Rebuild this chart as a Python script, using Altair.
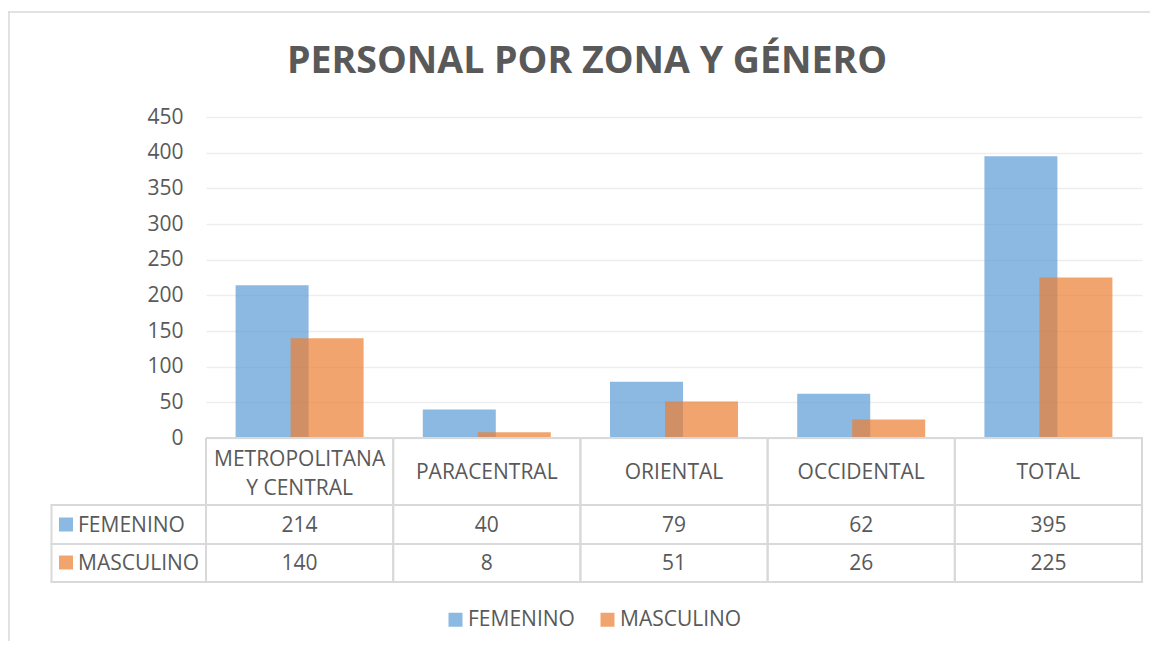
import altair as alt
import pandas as pd

title_text = "PERSONAL POR ZONA Y GÉNERO"
categories = ["METROPOLITANA Y CENTRAL", "PARACENTRAL", "ORIENTAL", "OCCIDENTAL", "TOTAL"]
femenino = [214, 40, 79, 62, 395]
masculino = [140, 8, 51, 26, 225]
series = ["FEMENINO", "MASCULINO"]
colors = ["#5B9BD5", "#ED7D31"]
y_ticks = [0, 50, 100, 150, 200, 250, 300, 350, 400, 450]

TXT = "#595959"
LINE = "#D9D9D9"
FONT = "Open Sans"
FS = 21

df = pd.DataFrame(
    {
        "zona": categories * 2,
        "genero": [series[0]] * len(categories) + [series[1]] * len(categories),
        "valor": femenino + masculino,
    }
)
zones = pd.DataFrame({"zona": categories})
deco = pd.DataFrame({"k": [0]})
title_df = pd.DataFrame({"t": [title_text]})

xscale = alt.Scale(domain=categories, paddingInner=0, paddingOuter=0)
xenc = alt.X("zona:N", sort=categories, scale=xscale, axis=None)
yenc = alt.Y(
    "valor:Q",
    scale=alt.Scale(domain=[0, 450], nice=False),
    axis=alt.Axis(
        values=y_ticks,
        grid=True,
        gridColor="#EDEDED",
        gridWidth=1.5,
        domain=False,
        ticks=False,
        tickSize=0,
        labelPadding=23,
        labelFontSize=FS,
        labelFont=FONT,
        labelColor=TXT,
        title=None,
    ),
)
color_enc = alt.Color(
    "genero:N",
    scale=alt.Scale(domain=series, range=colors),
    legend=alt.Legend(
        orient="none",
        legendX=239,
        legendY=492,
        direction="horizontal",
        title=None,
        symbolType="square",
        symbolSize=196,
        symbolStrokeWidth=0,
        symbolOpacity=0.7,
        labelFontSize=FS,
        labelFont=FONT,
        labelColor=TXT,
        labelOffset=2,
        columnPadding=22,
    ),
)

bars_f = (
    alt.Chart(df)
    .transform_filter(alt.datum.genero == series[0])
    .mark_bar(width=73, xOffset=-27.5, opacity=0.7)
    .encode(x=xenc, y=yenc, color=color_enc)
)
bars_m = (
    alt.Chart(df)
    .transform_filter(alt.datum.genero == series[1])
    .mark_bar(width=73, xOffset=27.5, opacity=0.7)
    .encode(x=xenc, y=yenc, color=color_enc)
)

# data table: header (wrapped and single-line labels)
header_multi = (
    alt.Chart(zones)
    .transform_filter("test(/ Y /, datum.zona)")
    .transform_calculate(label="replace(datum.zona, ' Y ', '|Y ')")
    .mark_text(lineBreak="|", fontSize=FS, font=FONT, color=TXT, lineHeight=29, baseline="middle")
    .encode(x=xenc, y=alt.value(342.5), text="label:N")
)
header_single = (
    alt.Chart(zones)
    .transform_filter("!test(/ Y /, datum.zona)")
    .mark_text(fontSize=FS, font=FONT, color=TXT, baseline="middle")
    .encode(x=xenc, y=alt.value(356), text="zona:N")
)
row_y = [408.5, 446.5]
rows = []
for s, ry, c in zip(series, row_y, colors):
    rows.append(
        alt.Chart(df)
        .transform_filter(alt.datum.genero == s)
        .mark_text(fontSize=FS, font=FONT, color=TXT, baseline="middle")
        .encode(x=xenc, y=alt.value(ry), text="valor:Q")
    )
    rows.append(
        alt.Chart(pd.DataFrame({"genero": [s]}))
        .mark_text(fontSize=FS, font=FONT, color=TXT, baseline="middle", align="left")
        .encode(x=alt.value(-128), y=alt.value(ry), text="genero:N")
    )
    rows.append(
        alt.Chart(pd.DataFrame({"genero": [s]}))
        .mark_square(size=196, filled=True, opacity=0.7, color=c)
        .encode(x=alt.value(-140), y=alt.value(ry - 1))
    )

vlines0 = (
    alt.Chart(zones)
    .mark_rule(color=LINE, strokeWidth=2)
    .encode(
        x=alt.X("zona:N", sort=categories, scale=xscale, axis=None, bandPosition=0),
        y=alt.value(321),
        y2=alt.value(465),
    )
)
vlines1 = (
    alt.Chart(zones)
    .mark_rule(color=LINE, strokeWidth=2)
    .encode(
        x=alt.X("zona:N", sort=categories, scale=xscale, axis=None, bandPosition=1),
        y=alt.value(321),
        y2=alt.value(465),
    )
)
deco_rules = []
for (x1, x2, y1, y2, w) in [
    (-154.5, -154.5, 388, 465, 2),
    (-155.5, 937, 388, 388, 2),
    (-155.5, 937, 427, 427, 2),
    (-155.5, 937, 465, 465, 2),
    (0, 937, 321, 321, 2),
    (-198, 944, -105, -105, 1.5),
    (-197, -197, -105, 530, 1.5),
]:
    deco_rules.append(
        alt.Chart(deco)
        .mark_rule(color=LINE, strokeWidth=w)
        .encode(x=alt.value(x1), x2=alt.value(x2), y=alt.value(y1), y2=alt.value(y2))
    )

title = (
    alt.Chart(title_df)
    .mark_text(fontSize=37.5, font=FONT, fontWeight="bold", color=TXT, baseline="alphabetic", align="center")
    .encode(x=alt.value(381), y=alt.value(-44), text="t:N")
)

chart = (
    alt.layer(bars_f, bars_m, header_multi, header_single, *rows, vlines0, vlines1, *deco_rules, title)
    .properties(
        width=936,
        height=321,
        padding={"left": 198, "top": 109, "right": 8, "bottom": 203},
        autosize=alt.AutoSizeParams(type="none"),
        background="white",
    )
    .configure_view(stroke=None)
)

chart.save("out.html", embed_options={"renderer": "svg", "actions": False})
